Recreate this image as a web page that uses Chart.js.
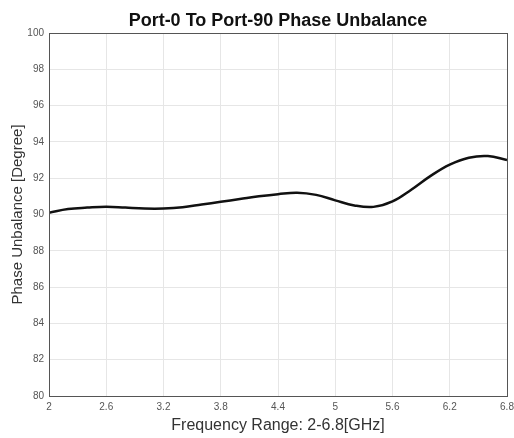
<!DOCTYPE html>
<html>
<head>
<meta charset="utf-8">
<script src="https://cdn.jsdelivr.net/npm/chart.js@4/dist/chart.umd.min.js"></script>
<style>
    html, body { margin: 0; padding: 0; background: #fff; }
    #wrap { width: 514px; height: 438px; }
</style>
</head>
<body>
<div id="wrap"><canvas id="phaseChart" width="514" height="438"></canvas></div>
<script>
// frequency in GHz, phase unbalance in degrees
const freqs = [2.0, 2.2, 2.4, 2.6, 2.8, 3.0, 3.2, 3.4, 3.6, 3.8, 4.0, 4.2, 4.4,
               4.6, 4.8, 5.0, 5.2, 5.4, 5.6, 5.8, 6.0, 6.2, 6.4, 6.6, 6.8];
const phaseUnbalance = [90.10, 90.30, 90.38, 90.43, 90.38, 90.33, 90.33, 90.40, 90.55, 90.70, 90.85, 91.00, 91.12,
                        91.20, 91.08, 90.78, 90.50, 90.42, 90.72, 91.38, 92.13, 92.75, 93.13, 93.22, 93.00];
const xTicks = [2, 2.6, 3.2, 3.8, 4.4, 5, 5.6, 6.2, 6.8];
const yTicks = [80, 82, 84, 86, 88, 90, 92, 94, 96, 98, 100];
const chartTitle = 'Port-0 To Port-90 Phase Unbalance';

// MATLAB 스타일 박스 + 플롯 영역 위에 가운데 정렬된 제목
const boxPlugin = {
    id: 'box',
    afterDraw(chart) {
        const { ctx, chartArea } = chart;
        ctx.save();
        ctx.strokeStyle = '#555';
        ctx.lineWidth = 1;
        ctx.strokeRect(chartArea.left + 0.5, chartArea.top + 0.5,
                       chartArea.right - chartArea.left, chartArea.bottom - chartArea.top);
        ctx.fillStyle = '#111';
        ctx.font = 'bold 18px "Liberation Sans", Arial, sans-serif';
        ctx.textAlign = 'center';
        ctx.textBaseline = 'middle';
        ctx.fillText(chartTitle, (chartArea.left + chartArea.right) / 2, 21);
        ctx.restore();
    }
};

const ctx = document.getElementById('phaseChart').getContext('2d');
new Chart(ctx, {
    type: 'line',
    data: {
        datasets: [{
            label: 'Phase Unbalance',
            data: freqs.map((f, i) => ({ x: f, y: phaseUnbalance[i] })),
            borderColor: '#111',
            borderWidth: 2.5,
            pointRadius: 0,
            fill: false,
            tension: 0.4
        }]
    },
    options: {
        responsive: false,
        animation: false,
        layout: { padding: { right: 7, left: 0, top: 33, bottom: 0 } },
        plugins: {
            legend: { display: false },
            tooltip: { enabled: false },
            title: { display: false }
        },
        scales: {
            x: {
                type: 'linear',
                min: 2,
                max: 6.8,
                afterBuildTicks: (scale) => { scale.ticks = xTicks.map(v => ({ value: v })); },
                afterFit: (scale) => {
                    scale.height = 42;
                    scale.paddingLeft = 0;
                    scale.paddingRight = 0;
                },
                ticks: {
                    color: '#555',
                    font: { family: 'Liberation Sans, Arial, sans-serif', size: 10 },
                    padding: 5,
                    maxRotation: 0,
                    autoSkip: false,
                    callback: (v) => String(v)
                },
                grid: { color: '#e6e6e6', drawTicks: false },
                border: { color: '#555' },
                title: {
                    display: true,
                    text: 'Frequency Range: 2-6.8[GHz]',
                    color: '#333',
                    font: { family: 'Liberation Sans, Arial, sans-serif', size: 16 },
                    padding: { top: 0, bottom: 3 }
                }
            },
            y: {
                min: 80,
                max: 100,
                afterBuildTicks: (scale) => { scale.ticks = yTicks.map(v => ({ value: v })); },
                afterFit: (scale) => { scale.width = 49; },
                ticks: {
                    color: '#555',
                    font: { family: 'Liberation Sans, Arial, sans-serif', size: 10 },
                    padding: 5,
                    autoSkip: false
                },
                grid: { color: '#e6e6e6', drawTicks: false },
                border: { color: '#555' },
                title: {
                    display: true,
                    text: 'Phase Unbalance [Degree]',
                    color: '#333',
                    font: { family: 'Liberation Sans, Arial, sans-serif', size: 15 },
                    padding: { top: 9, bottom: 0 }
                }
            }
        }
    },
    plugins: [boxPlugin]
});
</script>
</body>
</html>
